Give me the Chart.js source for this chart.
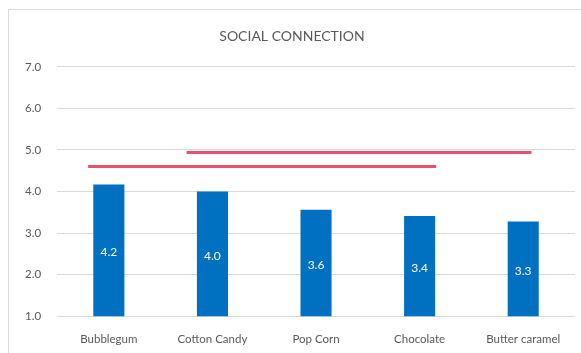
<!DOCTYPE html>
<html>
<head>
<meta charset="utf-8">
<script src="https://cdn.jsdelivr.net/npm/chart.js@4"></script>
<style>
  html, body { margin: 0; padding: 0; background: #fff; overflow: hidden; }
  #wrap { position: absolute; left: 0; top: 0; width: 581px; height: 353px; overflow: hidden; }
  #frame { position: absolute; left: 8px; top: 9px; width: 600px; height: 400px;
           border-left: 1px solid #d9d9d9; border-top: 1px solid #d9d9d9; }
  canvas { position: absolute; left: 0; top: 0; }
</style>
</head>
<body>
<div id="wrap">
  <div id="frame"></div>
  <canvas id="myChart" width="581" height="362"></canvas>
</div>
<script>
// data
var flavours = ['Bubblegum', 'Cotton Candy', 'Pop Corn', 'Chocolate', 'Butter caramel'];
var scores = [4.17, 4.0, 3.56, 3.41, 3.28];
var yTicks = [1, 2, 3, 4, 5, 6, 7];
// red reference lines (x in category index units)
var lineLow = [{ x: -0.2, y: 4.6 }, { x: 3.16, y: 4.6 }];
var lineHigh = [{ x: 0.75, y: 4.94 }, { x: 4.08, y: 4.94 }];

var fontName = 'Lato, "Open Sans", sans-serif';
var grey = '#595959';

// white value labels inside bars
var barLabels = {
    id: 'barLabels',
    afterDatasetsDraw: function (chart) {
        var c = chart.ctx;
        var meta = chart.getDatasetMeta(0);
        var bottom = chart.chartArea.bottom;
        c.save();
        c.fillStyle = '#ffffff';
        c.font = '12px ' + fontName;
        c.textAlign = 'center';
        c.textBaseline = 'middle';
        meta.data.forEach(function (bar, i) {
            var base = Math.min(bar.base, bottom);
            c.fillText(scores[i].toFixed(1), bar.x, (bar.y + base) / 2 + 2);
        });
        c.restore();
    }
};

var ctx = document.getElementById('myChart');
var chart = new Chart(ctx, {
    type: 'bar',
    data: {
        labels: flavours,
        datasets: [{
            type: 'bar',
            data: scores,
            backgroundColor: '#0070c0',
            categoryPercentage: 1,
            barPercentage: 0.3,
            grouped: false,
            order: 2
        }, {
            type: 'line',
            data: lineLow,
            xAxisID: 'xLine',
            borderColor: '#e8506e',
            borderWidth: 3,
            pointRadius: 0,
            order: 1
        }, {
            type: 'line',
            data: lineHigh,
            xAxisID: 'xLine',
            borderColor: '#e8506e',
            borderWidth: 3,
            pointRadius: 0,
            order: 1
        }]
    },
    options: {
        responsive: false,
        animation: false,
        layout: { padding: { left: 9, right: 6, top: 28, bottom: 0 } },
        plugins: {
            legend: { display: false },
            tooltip: { enabled: false },
            title: {
                display: true,
                text: 'SOCIAL CONNECTION',
                color: grey,
                font: { family: fontName, size: 14, weight: 'normal' },
                padding: { top: 0, bottom: 22 }
            }
        },
        scales: {
            x: {
                grid: { display: false, drawTicks: false },
                border: { display: false },
                ticks: { color: grey, font: { family: fontName, size: 11.5 }, padding: 16, maxRotation: 0 }
            },
            xLine: {
                type: 'linear',
                display: false,
                offset: false,
                min: -0.5,
                max: 4.5
            },
            y: {
                min: yTicks[0],
                max: yTicks[yTicks.length - 1],
                afterBuildTicks: function (axis) {
                    axis.ticks = yTicks.map(function (v) { return { value: v }; });
                },
                grid: { color: '#d9d9d9', drawTicks: false },
                border: { display: false },
                ticks: {
                    color: grey,
                    font: { family: fontName, size: 11.5 },
                    padding: 16,
                    callback: function (v) { return Number(v).toFixed(1); }
                }
            }
        }
    },
    plugins: [barLabels]
});
</script>
</body>
</html>
